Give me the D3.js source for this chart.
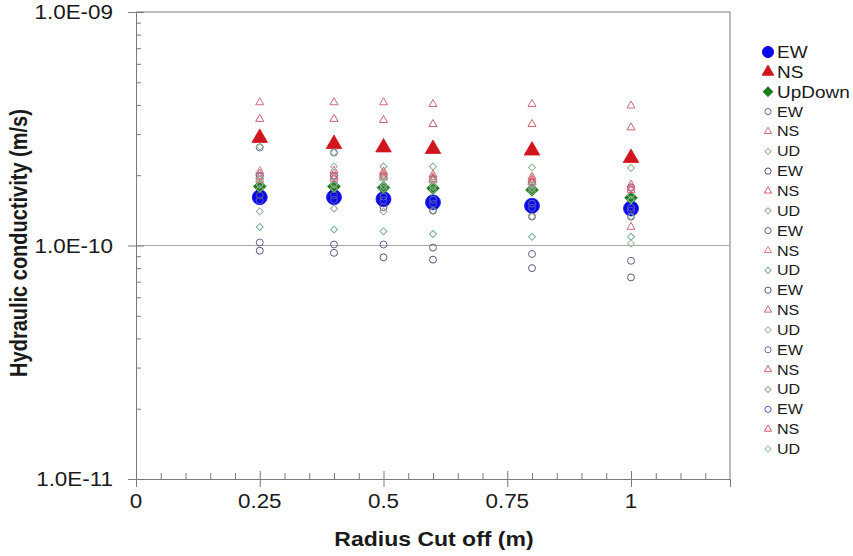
<!DOCTYPE html>
<html>
<head>
<meta charset="utf-8">
<script src="https://cdn.jsdelivr.net/npm/d3@7"></script>
<style>
  body { margin: 0; background: #fff; }
  text { font-family: Arial, "Liberation Sans", sans-serif; fill: #1a1a1a; }
</style>
</head>
<body>
<svg id="chart" width="853" height="556"></svg>
<script>
// Radius cut-off values (m)
const radii = [0.25, 0.4, 0.5, 0.6, 0.8, 1.0];

// Mean hydraulic conductivity per direction (m/s)
const ewMean = [1.61e-10, 1.61e-10, 1.58e-10, 1.53e-10, 1.48e-10, 1.44e-10];
const nsMean = [2.89e-10, 2.72e-10, 2.63e-10, 2.59e-10, 2.55e-10, 2.37e-10];
const udMean = [1.79e-10, 1.79e-10, 1.77e-10, 1.76e-10, 1.73e-10, 1.60e-10];

// Individual runs, East-West (m/s)
const ew1 = [2.63e-10, 2.50e-10, 1.99e-10, 1.93e-10, 1.86e-10, 1.77e-10];
const ew2 = [1.64e-10, 1.64e-10, 1.46e-10, 1.41e-10, 1.33e-10, 1.33e-10];
const ew3 = [1.03e-10, 1.01e-10, 1.01e-10, 0.98e-10, 0.92e-10, 0.86e-10];
const ew4 = [0.95e-10, 0.93e-10, 0.89e-10, 0.87e-10, 0.80e-10, 0.73e-10];
const ew5 = [1.99e-10, 1.99e-10, 1.62e-10, 1.57e-10, 1.51e-10, 1.45e-10];
const ew6 = [1.56e-10, 1.57e-10, 1.56e-10, 1.51e-10, 1.45e-10, 1.41e-10];

// Individual runs, North-South (m/s)
const ns1 = [4.10e-10, 4.10e-10, 4.10e-10, 4.03e-10, 4.03e-10, 3.97e-10];
const ns2 = [3.48e-10, 3.48e-10, 3.44e-10, 3.31e-10, 3.31e-10, 3.20e-10];
const ns3 = [2.08e-10, 2.03e-10, 2.03e-10, 1.96e-10, 1.93e-10, 1.77e-10];
const ns4 = [2.03e-10, 1.97e-10, 1.99e-10, 1.90e-10, 1.97e-10, 1.20e-10];
const ns5 = [1.97e-10, 1.93e-10, 1.95e-10, 2.01e-10, 1.90e-10, 1.82e-10];
const ns6 = [1.91e-10, 2.09e-10, 2.07e-10, 1.93e-10, 1.86e-10, 1.73e-10];

// Individual runs, Up-Down (m/s)
const ud1 = [2.65e-10, 2.50e-10, 2.18e-10, 2.18e-10, 2.16e-10, 2.15e-10];
const ud2 = [1.40e-10, 1.44e-10, 1.40e-10, 1.41e-10, 1.33e-10, 1.33e-10];
const ud3 = [1.20e-10, 1.17e-10, 1.15e-10, 1.12e-10, 1.09e-10, 1.09e-10];
const ud4 = [1.82e-10, 1.82e-10, 1.80e-10, 1.79e-10, 1.75e-10, 1.02e-10];
const ud5 = [1.75e-10, 1.75e-10, 1.75e-10, 1.73e-10, 1.70e-10, 1.64e-10];
const ud6 = [1.93e-10, 2.18e-10, 1.93e-10, 1.90e-10, 1.82e-10, 1.57e-10];

// Axis ticks and labels
const xTicks = [0, 0.25, 0.5, 0.75, 1];
const xTickLabels = ["0", "0.25", "0.5", "0.75", "1"];
const yTicks = [1e-11, 1e-10, 1e-9];
const yTickLabels = ["1.0E-11", "1.0E-10", "1.0E-09"];
const xTitle = "Radius Cut off (m)";
const yTitle = "Hydraulic conductivity (m/s)";

// ---- layout ----
const SX = 1.15;                     // horizontal text stretch
const plotLeft = 136, plotRight = 730, plotTop = 12, plotBottom = 479;
const axisColor = "#7a7a7a";

const svg = d3.select("#chart");
svg.append("rect").attr("width", 853).attr("height", 556).attr("fill", "#fff");

const x = d3.scaleLinear().domain([0, 1.2]).range([plotLeft, plotRight]);
const y = d3.scaleLog().domain([1e-11, 1e-9]).range([plotBottom, plotTop]);

// Frame: top and right borders
svg.append("line").attr("x1", plotLeft).attr("x2", plotRight).attr("y1", plotTop).attr("y2", plotTop)
  .attr("stroke", axisColor);
svg.append("line").attr("x1", plotRight).attr("x2", plotRight).attr("y1", plotTop).attr("y2", plotBottom)
  .attr("stroke", axisColor);

// Gridline at 1e-10
svg.append("line").attr("x1", plotLeft).attr("x2", plotRight)
  .attr("y1", y(1e-10)).attr("y2", y(1e-10))
  .attr("stroke", "#a8a8a8");

// Y axis: major ticks crossing the axis, minor ticks inside
const yMinor = [];
[1e-11, 1e-10].forEach(d => { for (let k = 2; k <= 9; k++) yMinor.push(d * k); });

const yAxisG = svg.append("g").attr("transform", `translate(${plotLeft},0)`)
  .call(d3.axisLeft(y).tickValues(yTicks).tickSize(8).tickFormat(""));
yAxisG.selectAll(".tick line").attr("x2", -8).attr("x1", 8);
const yMinorG = svg.append("g").attr("transform", `translate(${plotLeft},0)`)
  .call(d3.axisRight(y).tickValues(yMinor).tickSize(5).tickFormat(""));
yMinorG.select(".domain").remove();
[yAxisG, yMinorG].forEach(g => {
  g.selectAll("line,path").attr("stroke", axisColor);
});

// X axis: major ticks crossing, minor ticks every 0.05 inside
const xMinor = d3.range(1, 24).map(i => i * 0.05).filter(v => Math.abs(v * 4 - Math.round(v * 4)) > 1e-6);
const xAxisG = svg.append("g").attr("transform", `translate(0,${plotBottom})`)
  .call(d3.axisBottom(x).tickValues(xTicks).tickSize(8).tickFormat(""));
xAxisG.selectAll(".tick line").attr("y1", -8).attr("y2", 8);
const xMinorG = svg.append("g").attr("transform", `translate(0,${plotBottom})`)
  .call(d3.axisTop(x).tickValues(xMinor).tickSize(6).tickFormat(""));
xMinorG.select(".domain").remove();
[xAxisG, xMinorG].forEach(g => {
  g.selectAll("line,path").attr("stroke", axisColor);
});

// Tick labels
yTicks.forEach((v, i) => {
  svg.append("text")
    .attr("transform", `translate(113,${y(v)}) scale(${SX},1)`)
    .attr("text-anchor", "end").attr("dy", "0.36em")
    .style("font-size", "19.5px")
    .text(yTickLabels[i]);
});
xTicks.forEach((v, i) => {
  svg.append("text")
    .attr("transform", `translate(${x(v)},508) scale(${SX},1)`)
    .attr("text-anchor", "middle")
    .style("font-size", "19.5px")
    .text(xTickLabels[i]);
});

// Axis titles
svg.append("text")
  .attr("transform", `translate(${(plotLeft + plotRight) / 2 + 1},546) scale(${SX},1)`)
  .attr("text-anchor", "middle")
  .style("font-size", "20px").style("font-weight", "bold")
  .text(xTitle);
svg.append("text")
  .attr("transform", `translate(19,243) rotate(-90) scale(1,${SX})`)
  .attr("text-anchor", "middle").attr("dy", "0.36em")
  .style("font-size", "20px").style("font-weight", "bold")
  .text(yTitle);

// ---- series ----
const shapes = {
  circle: d3.symbolCircle,
  triangle: d3.symbolTriangle,
  diamond: d3.symbolSquare
};

const bigSeries = [
  { name: "EW", shape: "circle", color: "#0b0bea", values: ewMean, size: 175 },
  { name: "NS", shape: "triangle", color: "#d0161c", values: nsMean, size: 105 },
  { name: "UpDown", shape: "diamond", color: "#1c7c1c", values: udMean, size: 80 }
];

const ewRuns = [ew1, ew2, ew3, ew4, ew5, ew6];
const nsRuns = [ns1, ns2, ns3, ns4, ns5, ns6];
const udRuns = [ud1, ud2, ud3, ud4, ud5, ud6];
const ewColors = ["#6464a8", "#55557a", "#62628f", "#58587e", "#6a6aa6", "#5656c4"];
const nsColors = ["#d06a7c", "#c4606e", "#dc7a8a", "#c86a7a", "#d06070", "#d85868"];
const udColors = ["#8ab48a", "#94a494", "#72ae9e", "#a2b6a2", "#86a886", "#8cbc9c"];

const smallSeries = [];
for (let i = 0; i < 6; i++) {
  smallSeries.push({ name: "EW", shape: "circle", color: ewColors[i], values: ewRuns[i], size: 38 });
  smallSeries.push({ name: "NS", shape: "triangle", color: nsColors[i], values: nsRuns[i], size: 28 });
  smallSeries.push({ name: "UD", shape: "diamond", color: udColors[i], values: udRuns[i], size: 24 });
}

function markerTransform(shape, px, py) {
  return `translate(${px},${py})` + (shape === "diamond" ? " rotate(45)" : "");
}

// Mean markers (filled)
bigSeries.forEach(s => {
  svg.append("g").selectAll("path")
    .data(radii.map((r, i) => ({ r, v: s.values[i] })))
    .join("path")
    .attr("d", d3.symbol(shapes[s.shape], s.size)())
    .attr("transform", d => markerTransform(s.shape, x(d.r), y(d.v)))
    .attr("fill", s.color).attr("stroke", s.color).attr("stroke-width", 0.8);
});

// Individual run markers (open)
smallSeries.forEach(s => {
  svg.append("g").selectAll("path")
    .data(radii.map((r, i) => ({ r, v: s.values[i] })))
    .join("path")
    .attr("d", d3.symbol(shapes[s.shape], s.size)())
    .attr("transform", d => markerTransform(s.shape, x(d.r), y(d.v)))
    .attr("fill", "none").attr("stroke", s.color).attr("stroke-width", 1);
});

// ---- legend ----
const legendItems = bigSeries.map(s => ({ ...s, big: true }))
  .concat(smallSeries.map(s => ({ ...s, big: false })));
const legendTop = 52, legendStep = 19.85, legendMarkX = 768, legendTextX = 777;

legendItems.forEach((s, i) => {
  const ly = legendTop + i * legendStep;
  const size = s.big ? s.size * 0.55 : s.size * 0.8;
  svg.append("path")
    .attr("d", d3.symbol(shapes[s.shape], size)())
    .attr("transform", markerTransform(s.shape, legendMarkX, ly))
    .attr("fill", s.big ? s.color : "none")
    .attr("stroke", s.color).attr("stroke-width", 1);
  svg.append("text")
    .attr("transform", `translate(${legendTextX},${ly}) scale(${SX},1)`)
    .attr("dy", "0.36em")
    .style("font-size", s.big ? "16.5px" : "14px")
    .text(s.name);
});
</script>
</body>
</html>
